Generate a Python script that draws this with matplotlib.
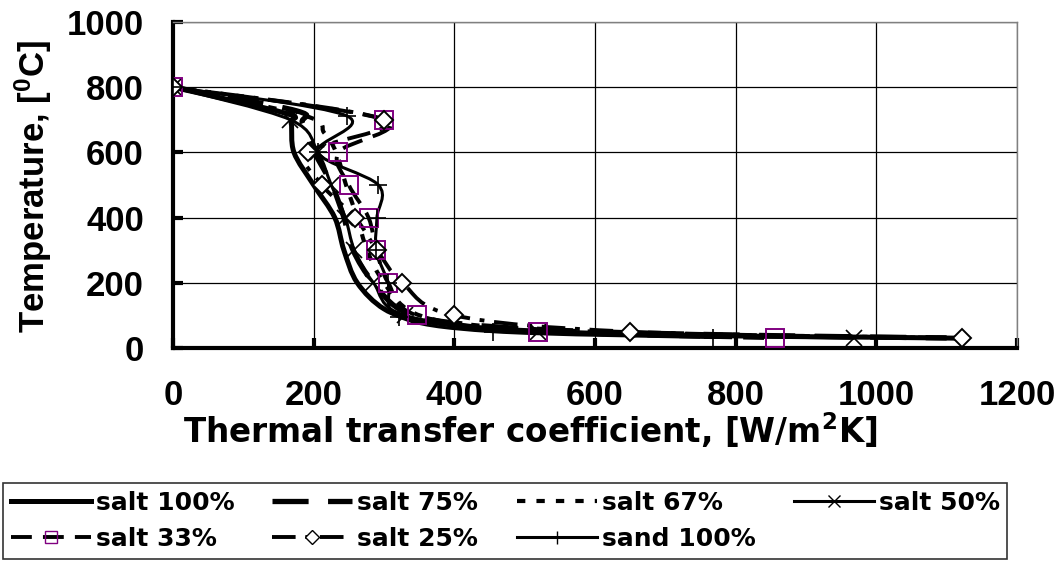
import matplotlib
matplotlib.use("Agg")
import matplotlib.pyplot as plt
from matplotlib.path import Path
from matplotlib.patches import PathPatch
from matplotlib.lines import Line2D

# ---------------- data ----------------
salt100_x = [0, 160, 168, 172, 200, 230, 243, 262, 300, 350, 450, 600, 800, 1000, 1120]
salt100_y = [800, 720, 690, 600, 500, 400, 300, 200, 120, 85, 60, 45, 37, 33, 30]

salt75_x = [0, 175, 184, 200, 226, 243, 256, 285, 330, 420, 600, 850, 1100]
salt75_y = [800, 728, 690, 605, 500, 400, 300, 200, 110, 72, 50, 38, 31]

salt67_x = [0, 188, 215, 232, 246, 262, 276, 300, 340, 420, 600, 850, 1100]
salt67_y = [800, 712, 660, 600, 500, 400, 300, 200, 110, 72, 50, 38, 31]

temps = [800, 700, 600, 500, 400, 300, 200, 100, 50, 30]
salt50_x = [0, 167, 206, 225, 245, 258, 285, 330, 519, 968]
salt33_x = [0, 300, 235, 250, 278, 289, 306, 347, 519, 856]
salt25_x = [0, 300, 192, 212, 259, 290, 326, 400, 650, 1122]
sand100_x = [0, 247, 206, 292, 290, 289, 306, 321, 455, 768]
sand100_y = [800, 712, 600, 500, 400, 300, 200, 96, 50, 32]

labels = ["salt 100%", "salt 75%", "salt 67%", "salt 50%",
          "salt 33%", "salt 25%", "sand 100%"]
x_ticks = [0, 200, 400, 600, 800, 1000, 1200]
y_ticks = [0, 200, 400, 600, 800, 1000]

# ---------------- style ----------------
plt.rcParams["font.family"] = ["Liberation Sans", "DejaVu Sans"]
plt.rcParams["font.weight"] = "bold"
plt.rcParams["mathtext.fontset"] = "custom"
plt.rcParams["mathtext.rm"] = "Liberation Sans:bold"
plt.rcParams["mathtext.bf"] = "Liberation Sans:bold"
plt.rcParams["mathtext.it"] = "Liberation Sans:bold"
plt.rcParams["mathtext.default"] = "bf"
plt.rcParams["lines.scale_dashes"] = False

PURPLE = "#800080"


def smooth_path(xs, ys):
    """Catmull-Rom style smoothed path (like a spreadsheet 'smoothed line')."""
    pts = list(zip(xs, ys))
    n = len(pts)
    verts = [pts[0]]
    codes = [Path.MOVETO]
    for i in range(n - 1):
        p0 = pts[i - 1] if i > 0 else pts[i]
        p1 = pts[i]
        p2 = pts[i + 1]
        p3 = pts[i + 2] if i + 2 < n else pts[i + 1]
        c1 = (p1[0] + (p2[0] - p0[0]) / 6.0, p1[1] + (p2[1] - p0[1]) / 6.0)
        c2 = (p2[0] - (p3[0] - p1[0]) / 6.0, p2[1] - (p3[1] - p1[1]) / 6.0)
        verts += [c1, c2, p2]
        codes += [Path.CURVE4] * 3
    return Path(verts, codes)


fig = plt.figure(figsize=(10.6, 5.62), dpi=100)
ax = fig.add_axes([173 / 1060, 1 - 348 / 562, (1017 - 173) / 1060, (348 - 22) / 562])

series = [
    # x, y, linestyle, lw, marker, ms, mfc, mec, mew
    (salt100_x, salt100_y, "-", 3.6, None, 0, "none", "black", 0),
    (salt75_x, salt75_y, (0, (26, 14)), 3.8, None, 0, "none", "black", 0),
    (salt67_x, salt67_y, (0, (6, 8)), 3.0, None, 0, "none", "black", 0),
    (salt50_x, temps, "-", 2.2, "x", 12, "none", "black", 1.2),
    (salt33_x, temps, (0, (15, 8)), 2.8, "s", 12.5, "none", PURPLE, 1.4),
    (salt25_x, temps, (0, (17, 7, 3.5, 7)), 2.8, "D", 9.5, "white", "black", 1.4),
    (sand100_x, sand100_y, "-", 2.2, "+", 13, "none", "black", 1.2),
]

handles = []
for (xs, ys, ls, lw, mk, ms, mfc, mec, mew), lab in zip(series, labels):
    patch = PathPatch(smooth_path(xs, ys), fill=False, edgecolor="black",
                      linewidth=lw, linestyle=ls, capstyle="butt",
                      joinstyle="round", zorder=3)
    ax.add_patch(patch)
    if mk is not None:
        ax.plot(xs, ys, linestyle="none", marker=mk, markersize=ms,
                markerfacecolor=mfc, markeredgecolor=mec, markeredgewidth=mew,
                zorder=5)
    handles.append(Line2D([], [], color="black", linestyle=ls, linewidth=lw,
                          marker=mk if mk else "", markersize=ms * 0.72,
                          markerfacecolor=mfc, markeredgecolor=mec,
                          markeredgewidth=1.0, dash_capstyle="butt"))

ax.set_xlim(0, 1200)
ax.set_ylim(0, 1000)
ax.set_xticks(x_ticks)
ax.set_yticks(y_ticks)
ax.grid(True, color="black", linewidth=0.9, zorder=0)
ax.set_axisbelow(True)

for side in ["left", "bottom"]:
    ax.spines[side].set_linewidth(3.0)
    ax.spines[side].set_color("black")
for side in ["top", "right"]:
    ax.spines[side].set_linewidth(1.0)
    ax.spines[side].set_color("#808080")

ax.tick_params(axis="both", direction="in", length=7.5, width=3.0,
               labelsize=25, colors="black")
ax.tick_params(axis="y", pad=21)
ax.tick_params(axis="x", pad=22)
for lbl in ax.get_xticklabels() + ax.get_yticklabels():
    lbl.set_fontweight("bold")

fig.text(530 / 1060, 1 - 430 / 562, "Thermal transfer coefficient, [W/m$^{2}$K]",
         ha="center", va="center", fontsize=23.5, fontweight="bold",
         family=["DejaVu Sans"], math_fontfamily="dejavusans")
fig.text(33 / 1060, 1 - 187 / 562, "Temperature, [$^{0}$C]", rotation=90,
         ha="center", va="center", fontsize=25, fontweight="bold")

# column-major fill order so rows read like the reference
order = [0, 4, 1, 5, 2, 6, 3]
leg = fig.legend([handles[i] for i in order], [labels[i] for i in order],
                 ncol=4, loc="upper left",
                 bbox_to_anchor=(3 / 1060, 1 - 483 / 562, 1004 / 1060, 0.0),
                 mode="expand", frameon=True, fancybox=False,
                 edgecolor="black", handlelength=3.2, handletextpad=0.2,
                 borderaxespad=0.0, borderpad=0.3, labelspacing=0.5,
                 numpoints=1,
                 prop={"weight": "bold", "size": 18, "family": "DejaVu Sans"})
leg.get_frame().set_linewidth(1.2)

fig.savefig("out.png", dpi=100)
